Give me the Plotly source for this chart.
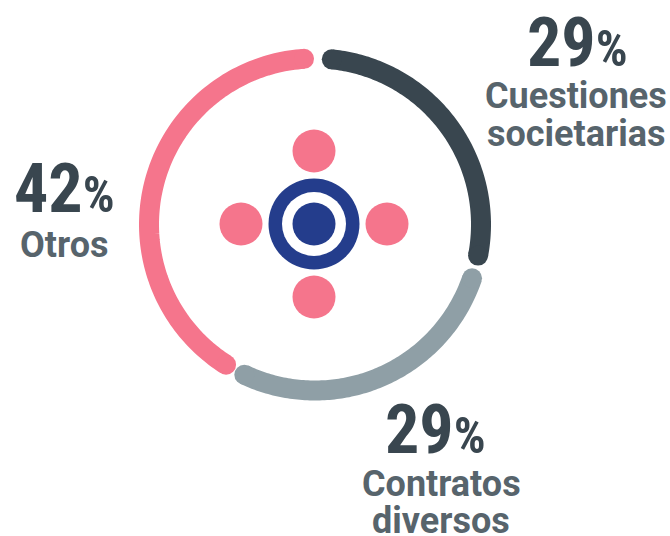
import numpy as np
import plotly.graph_objects as go

W, H = 670, 536
categories = [["Cuestiones", "societarias"], ["Contratos", "diversos"], ["Otros"]]
values = [29, 29, 42]
colors = ["#39464f", "#8f9fa6", "#f5758c"]
label_color = "#57646c"
value_color = "#39464f"
value_pos = [(577, 43), (435, 430), (64, 189)]
label_pos = [[(575.5, 96), (575.5, 134)], [(441, 484), (441, 521)], [(64, 245)]]
start_gaps = [5.8, 4.5, 3.6]
end_gaps = [3.6, 3.6, 3.8]

cx, cy = 315, 224.5
half = 200
arc_radius = 166
stroke = 20

fig = go.Figure()
total = sum(values)
start = 0.0
for name, v, c, g0, g1 in zip(categories, values, colors, start_gaps, end_gaps):
    span = v / total * 360
    a, b = start + g0, start + span - g1
    theta = np.linspace(a, b, 120)
    fig.add_trace(go.Scatterpolar(
        r=np.full(theta.size, arc_radius), theta=theta, mode="lines",
        line=dict(color=c, width=stroke), hoverinfo="skip", showlegend=False))
    fig.add_trace(go.Scatterpolar(
        r=[arc_radius, arc_radius], theta=[a, b], mode="markers",
        marker=dict(color=c, size=stroke, line=dict(width=0)),
        name=" ".join(name), showlegend=False))
    start += span

def px(x): return x / W
def py(y): return 1 - y / H

fig.update_layout(
    width=W, height=H, margin=dict(l=0, r=0, t=0, b=0),
    paper_bgcolor="white", plot_bgcolor="white", showlegend=False,
    polar=dict(
        domain=dict(x=[px(cx - half), px(cx + half)], y=[py(cy + half), py(cy - half)]),
        bgcolor="rgba(0,0,0,0)",
        angularaxis=dict(visible=False, direction="clockwise", rotation=90),
        radialaxis=dict(visible=False, range=[0, half]),
    ),
)

def circle(x, y, r, color):
    fig.add_shape(type="circle", xref="paper", yref="paper",
                  x0=px(x - r), x1=px(x + r), y0=py(y + r), y1=py(y - r),
                  fillcolor=color, line=dict(width=0))

ic_x, ic_y = 314, 224
for dx, dy in [(0, -73), (0, 73), (-73, 0), (73, 0)]:
    circle(ic_x + dx, ic_y + dy, 21.5, colors[2])
circle(ic_x, ic_y, 45.5, "#243d8c")
circle(ic_x, ic_y, 32, "white")
circle(ic_x, ic_y, 21.5, "#243d8c")

for v, (vx, vy), lines, positions in zip(values, value_pos, categories, label_pos):
    fig.add_annotation(
        x=px(vx), y=py(vy), xref="paper", yref="paper", showarrow=False,
        xanchor="center", yanchor="middle",
        text=f"<b>{v}</b><span style='font-size:50px'><b>%</b></span>",
        font=dict(family="Roboto Condensed, Roboto", size=68, color=value_color))
    for line, (lx, ly) in zip(lines, positions):
        fig.add_annotation(
            x=px(lx), y=py(ly), xref="paper", yref="paper", showarrow=False,
            xanchor="center", yanchor="middle", align="center",
            text=f"<b>{line}</b>",
            font=dict(family="Roboto", size=36, color=label_color))

# Remove the page's default margin so the figure fills the whole window
fig.write_html("out.html", config={"displayModeBar": False},
               post_script="document.documentElement.style.overflow='hidden';document.body.style.margin='0';")
